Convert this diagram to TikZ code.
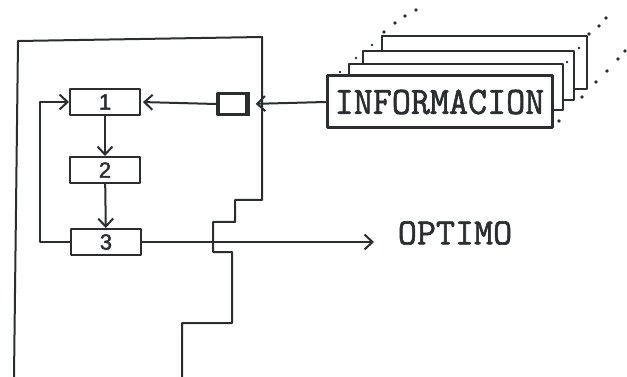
\documentclass[tikz,border=0pt]{standalone}
\usepackage{fontspec}
\usetikzlibrary{arrows.meta}
\newfontfamily\typew[FakeBold=1.6]{Latin Modern Mono}
\newfontfamily\handdigit[FakeBold=2]{Liberation Sans}
\definecolor{ink}{HTML}{2A2E2E}
\begin{document}
\begin{tikzpicture}[x=1pt,y=-1pt, line width=2pt, line join=round, line cap=round,
  draw=ink, color=ink,
  proc/.style={draw, minimum width=70pt, minimum height=26pt, inner sep=0pt},
  digit/.style={font=\handdigit\fontsize{22}{22}\selectfont},
  arr/.style={-{Straight Barb[length=8pt,width=15pt,line width=2pt]}},
  sheet/.style={draw, fill=white, line width=2pt},
  outtext/.style={font=\typew\fontsize{37}{37}\selectfont, inner sep=0pt},
  ]
\useasboundingbox (0,0) rectangle (627,377);

% outer boundary of the system
\draw (14,377) -- (18,41) -- (262,37) -- (262,200) -- (235,200) -- (235,222)
  -- (213,222) -- (213,252) -- (232,252) -- (232,323) -- (182,323) -- (182,377);

% process steps
\node[proc, digit] (b1) at (105,102) {1};
\node[proc, digit] (b2) at (105,170) {2};
\node[proc, digit] (b3) at (106,242) {3};

\draw[arr] (b1) -- (b2);
\draw[arr] (b2) -- (b3);
\draw[arr] (b3.west) -- ++(-30,0) |- (b1.west);

% input buffer
\node[draw, line width=3.4pt, minimum width=30pt, minimum height=21pt, inner sep=0pt] (sb) at (233,104) {};
\draw[line width=5pt, line cap=butt] ([xshift=-2.5pt]sb.north east) -- ([xshift=-2.5pt]sb.south east);
\draw[arr, shorten >=2pt] (sb.west) -- (b1.east);

% stack of information sheets
\draw[sheet] (382,36) rectangle (587,89);
\draw[sheet] (363,51) rectangle (574,100);
\draw[sheet] (349,64) rectangle (563,110);
\node[draw, fill=white, line width=3pt, minimum width=225pt, minimum height=52pt, inner sep=0pt, outtext]
  (info) at (439.5,102) {\scalebox{1}[1.05]{INFORMACION}};

\foreach \p in {(384,32),(395,23),(405,16),(416,10),
                (589,34),(599,26),(606,18),
                (625,51),(618,59),(607,71),(596,82),(582,97),(559,121)}
  \fill \p circle (1.8pt);
\foreach \p in {(372,45),(356,58),(340,72),(579,48),(567,62)}
  \fill \p circle (1.4pt);

\draw[arr, shorten >=6pt] (info.west) -- (sb.east);

% output
\node[outtext] (opt) at (455,233) {OPTIMO};
\coordinate (optend) at (374,242);
\draw[arr] (b3.east) -- (optend);
\end{tikzpicture}
\end{document}
